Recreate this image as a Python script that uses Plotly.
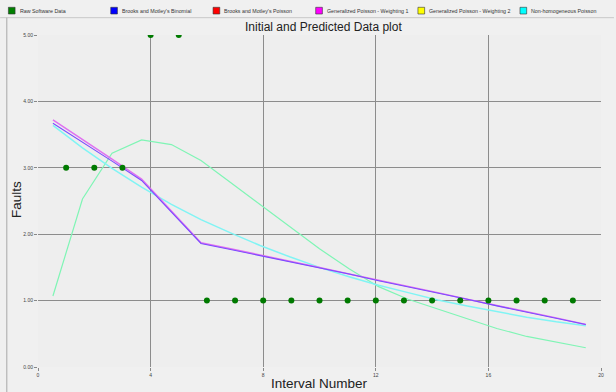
import plotly.graph_objects as go

# ---------------- data ----------------
interval = list(range(1, 20))
raw_faults = [3, 3, 3, 5, 5, 1, 1, 1, 1, 1, 1, 1, 1, 1, 1, 1, 1, 1, 1]

pred_x = [0.53, 1.58, 2.63, 3.68, 4.74, 5.79, 6.84, 7.89, 8.94, 10.0,
          11.05, 12.1, 13.15, 14.2, 15.25, 16.3, 17.36, 18.41, 19.46]
gp_w1 = [3.72, 3.43, 3.13, 2.83, 2.35, 1.87, 1.78, 1.69, 1.59, 1.50,
         1.40, 1.31, 1.21, 1.12, 1.02, 0.93, 0.83, 0.74, 0.64]
bm_binomial = [3.67, 3.39, 3.10, 2.81, 2.33, 1.86, 1.77, 1.68, 1.58, 1.49,
               1.40, 1.30, 1.21, 1.11, 1.02, 0.92, 0.83, 0.73, 0.64]
nhpp = [3.64, 3.30, 2.99, 2.71, 2.45, 2.22, 2.02, 1.83, 1.66, 1.50,
        1.36, 1.23, 1.12, 1.01, 0.92, 0.83, 0.75, 0.68, 0.62]
gp_w2 = [1.07, 2.53, 3.22, 3.42, 3.35, 3.11, 2.78, 2.45, 2.11, 1.78,
         1.48, 1.21, 1.02, 0.87, 0.72, 0.58, 0.46, 0.37, 0.29]

legend_names = ["Raw Software Data", "Brooks and Motley's Binomial",
                "Brooks and Motley's Poisson", "Generalized Poisson - Weighting 1",
                "Generalized Poisson - Weighting 2", "Non-homogeneous Poisson"]
legend_colors = ["#008000", "#0000ff", "#ff0000", "#ff00ff", "#ffff00", "#00ffff"]

x_ticks = [0, 4, 8, 12, 16, 20]
y_ticks = [0, 1, 2, 3, 4, 5]
y_tick_labels = ["0.00", "1.00", "2.00", "3.00", "4.00", "5.00"]

title = "Initial and Predicted Data plot"
x_title = "Interval Number"
y_title = "Faults"

# ---------------- layout geometry (pixels) ----------------
W, H = 616, 392
L, R, T, B = 38, 603, 35, 367


def xp(px):
    return (px - L) / (R - L)


def yp(py):
    return (B - py) / (B - T)


fig = go.Figure()

fig.add_trace(go.Scatter(x=pred_x, y=gp_w2, mode="lines",
                         line=dict(color="#7ff5b5", width=1.2), showlegend=False))
fig.add_trace(go.Scatter(x=pred_x, y=nhpp, mode="lines",
                         line=dict(color="#80f4f4", width=1.5), showlegend=False))
fig.add_trace(go.Scatter(x=pred_x, y=gp_w1, mode="lines",
                         line=dict(color="#e070f0", width=1.5), showlegend=False))
fig.add_trace(go.Scatter(x=pred_x, y=bm_binomial, mode="lines",
                         line=dict(color="#7a4cff", width=1.1), showlegend=False))
fig.add_trace(go.Scatter(x=interval, y=raw_faults, mode="markers",
                         marker=dict(color="#007a00", size=6), showlegend=False))

shapes = []
annotations = []

# legend strip
leg_left = [8.3, 111.0, 213.7, 316.7, 419.3, 521.7]
for lx, name, col in zip(leg_left, legend_names, legend_colors):
    shapes.append(dict(type="rect", xref="paper", yref="paper",
                       x0=xp(lx), x1=xp(lx + 6.7), y0=yp(14), y1=yp(7.3),
                       fillcolor=col, line=dict(color="#333333", width=0.6)))
    annotations.append(dict(text=name, xref="paper", yref="paper",
                            x=xp(lx + 9.3), y=yp(10.8), xanchor="left", yanchor="middle",
                            showarrow=False, font=dict(size=5.3, color="#333333",
                                                       family="Liberation Sans")))
shapes.append(dict(type="line", xref="paper", yref="paper",
                   x0=xp(0), x1=xp(W), y0=yp(17.7), y1=yp(17.7),
                   line=dict(color="#c8c8c8", width=1)))
shapes.append(dict(type="line", xref="paper", yref="paper",
                   x0=xp(6.7), x1=xp(6.7), y0=yp(17.7), y1=yp(H),
                   line=dict(color="#a8a8a8", width=1)))

annotations.append(dict(text=title, xref="paper", yref="paper", x=xp(325), y=yp(27),
                        xanchor="center", yanchor="middle", showarrow=False,
                        font=dict(size=12, color="#222222", family="Liberation Sans")))
annotations.append(dict(text=x_title, xref="paper", yref="paper", x=xp(320), y=yp(383.5),
                        xanchor="center", yanchor="middle", showarrow=False,
                        font=dict(size=13.5, color="#222222", family="Liberation Sans")))
annotations.append(dict(text=y_title, xref="paper", yref="paper", x=xp(16), y=yp(200),
                        xanchor="center", yanchor="middle", showarrow=False, textangle=-90,
                        font=dict(size=13.5, color="#222222", family="Liberation Sans")))

fig.update_layout(
    width=W, height=H,
    margin=dict(l=L, r=W - R, t=T, b=H - B, pad=0),
    paper_bgcolor="#f0f0f0", plot_bgcolor="#eeeeee",
    shapes=shapes, annotations=annotations,
    showlegend=False,
    font=dict(family="Liberation Sans"),
)
fig.update_xaxes(range=[0, 20], tickvals=x_ticks, ticktext=[str(v) for v in x_ticks],
                 showgrid=True, gridcolor="#8c8c8c", gridwidth=1.4,
                 zeroline=False, showline=False,
                 ticks="outside", ticklen=3, tickcolor="#888888",
                 tickfont=dict(size=5, color="#444444"), fixedrange=True)
fig.update_yaxes(range=[0, 5], tickvals=y_ticks, ticktext=y_tick_labels,
                 showgrid=True, gridcolor="#8c8c8c", gridwidth=1.4,
                 zeroline=False, showline=False,
                 ticks="outside", ticklen=3, tickcolor="#888888",
                 tickfont=dict(size=5, color="#444444"), fixedrange=True)

fig.write_html("out.html", config={"displayModeBar": False},
               post_script="document.body.style.margin='0';document.body.style.background='#f0f0f0';")
